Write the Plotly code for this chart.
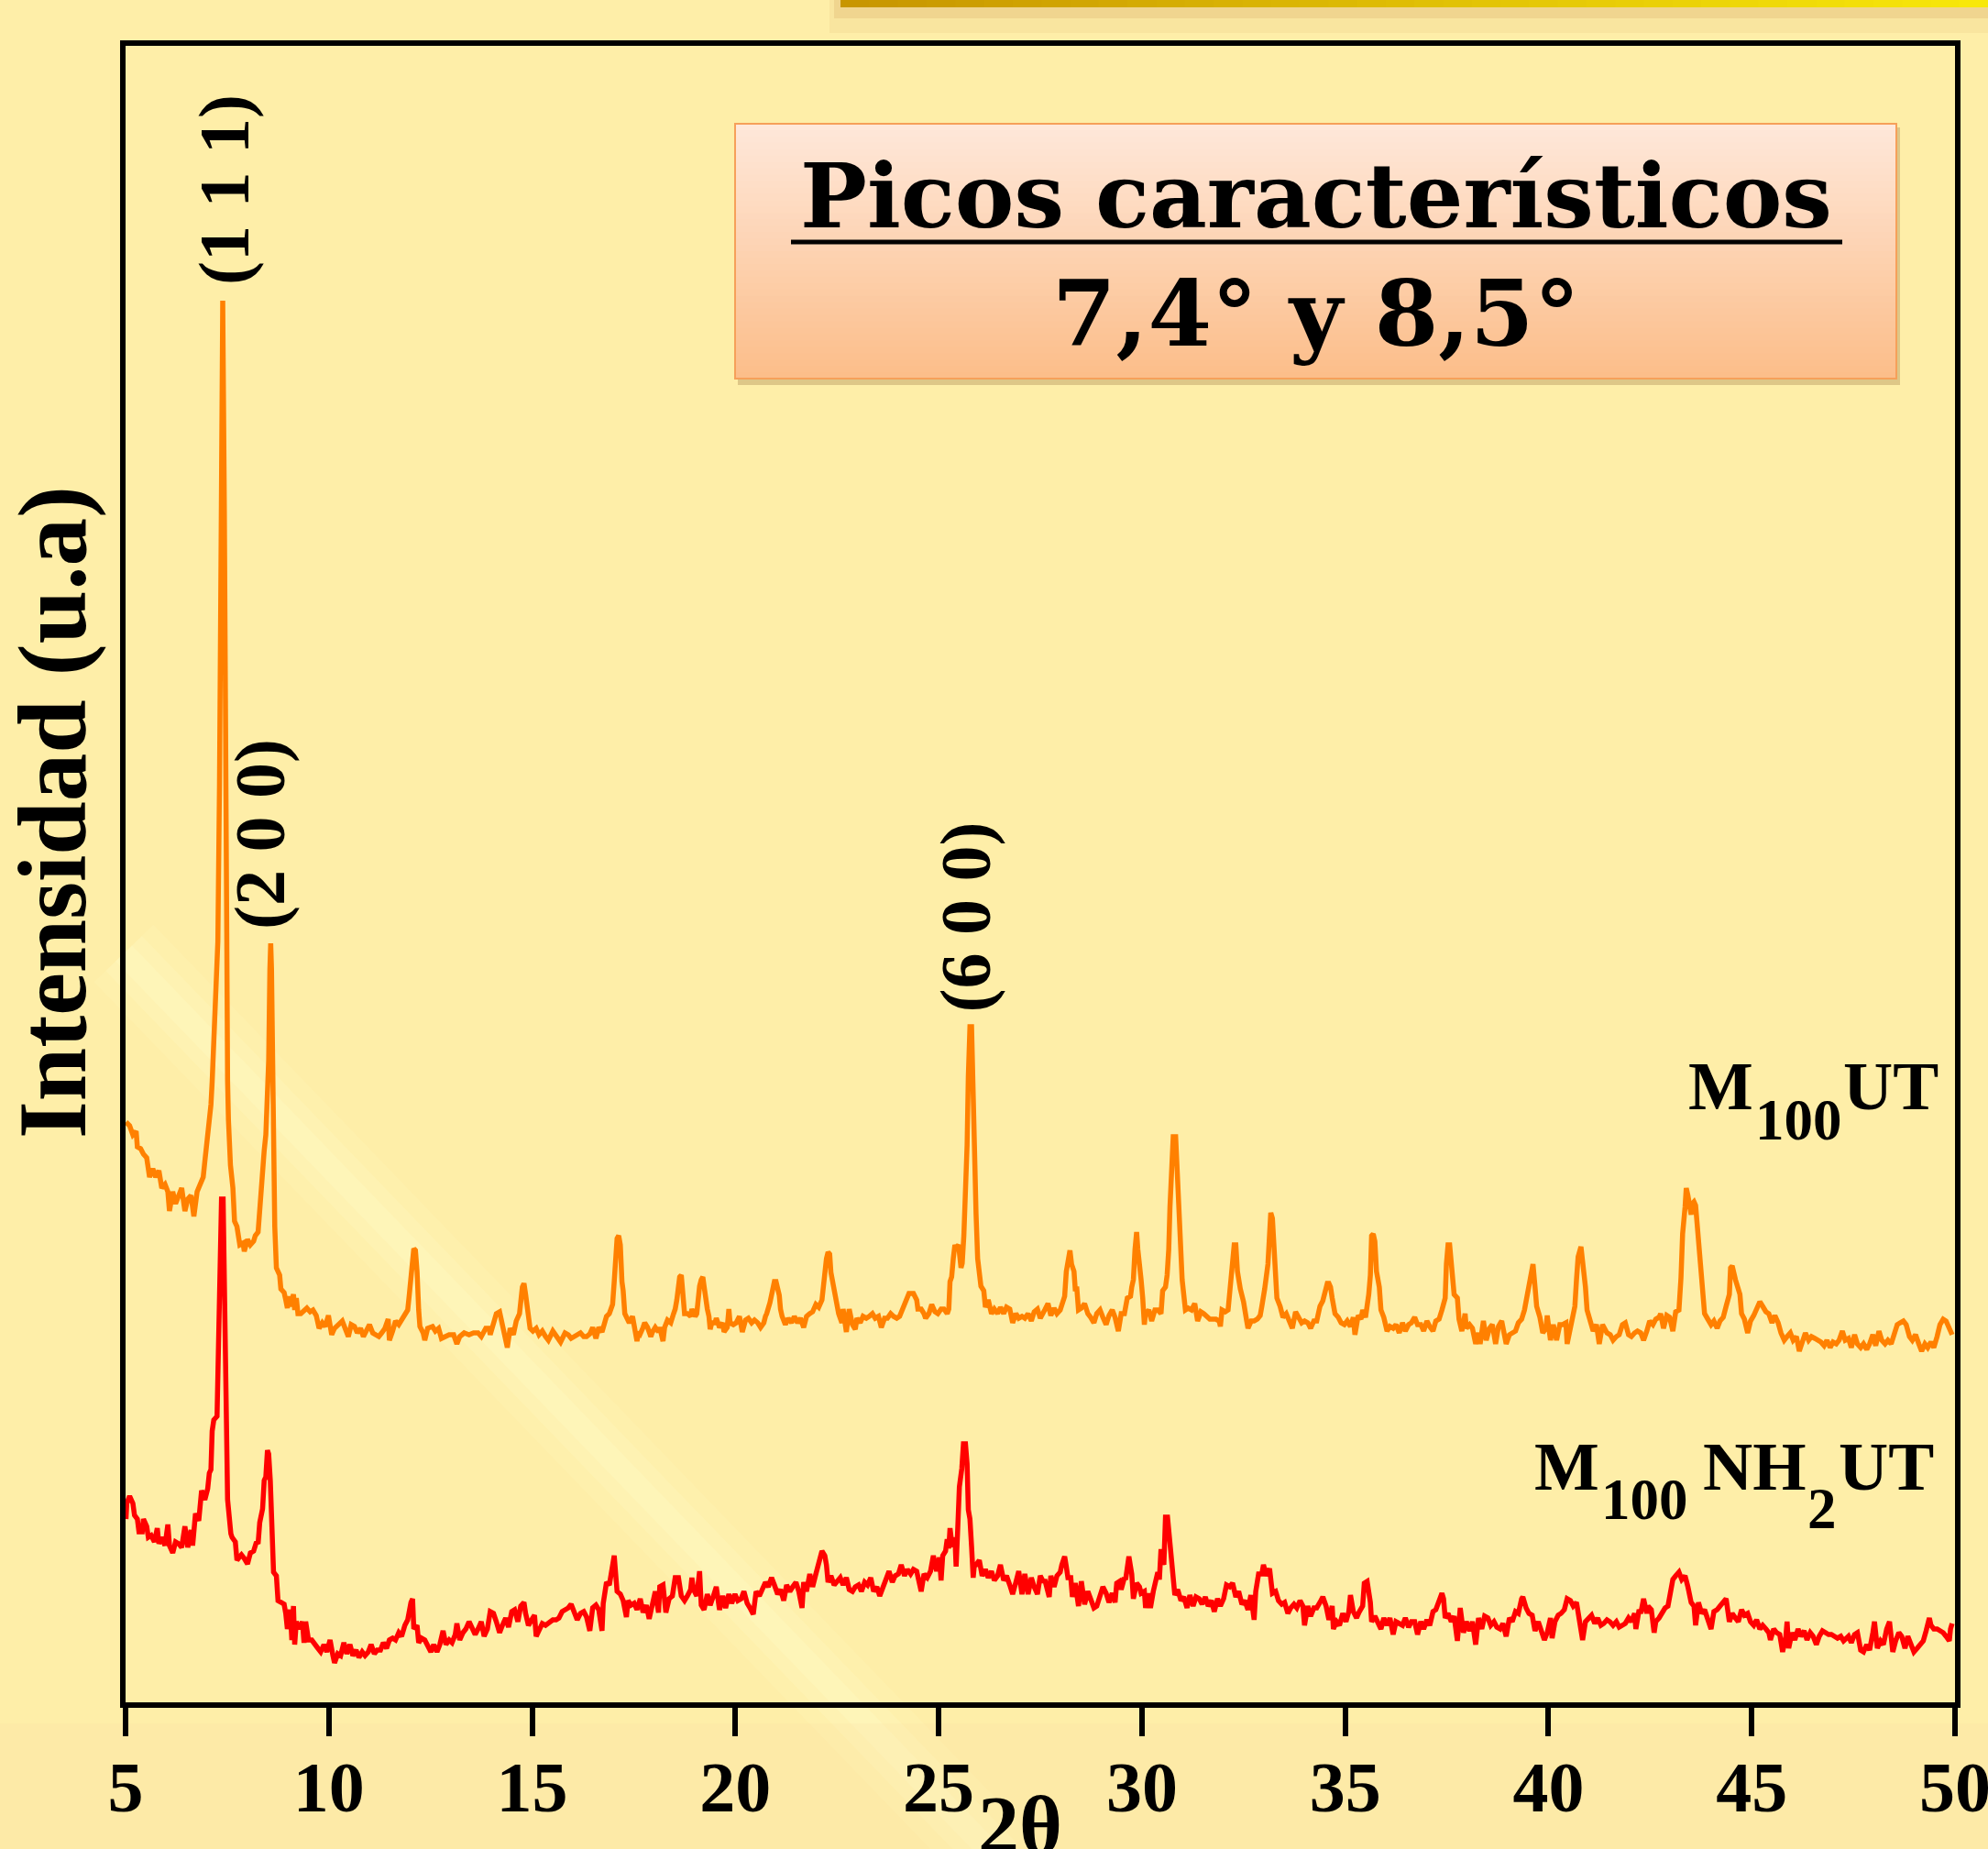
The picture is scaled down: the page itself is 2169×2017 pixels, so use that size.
import plotly.graph_objects as go

# ---------------- data (2theta, intensity a.u.) ----------------
M100UT = [
(5.01,633),(5.10,629),(5.18,619),(5.26,623),(5.29,606),(5.37,604),(5.44,598),(5.52,594),(5.59,573),(5.67,582),(5.74,573),(5.82,580),(5.89,561),(5.97,565),(6.04,557),(6.08,536),(6.16,557),(6.23,544),(6.31,553),(6.38,561),(6.46,536),(6.53,549),(6.61,553),(6.68,530),(6.76,557),(6.83,565),(6.91,573),(6.95,590),(6.98,602),(7.02,619),(7.06,636),(7.10,652),(7.13,677),
(7.20,740),(7.27,830),(7.31,1000),(7.35,1300),(7.39,1529),(7.43,1300),(7.46,1000),(7.48,857),(7.51,677),(7.53,636),(7.56,602),(7.58,586),(7.64,561),(7.68,525),
(7.74,519),(7.77,507),(7.81,499),(7.89,501),(7.92,492),(8.00,505),(8.07,499),(8.15,503),(8.19,509),(8.26,513),(8.30,536),(8.34,561),(8.37,594),(8.41,602),(8.45,619),(8.49,652),(8.52,700),(8.55,800),(8.57,828),(8.59,800),(8.61,700),(8.64,594),(8.67,519),(8.71,474),
(8.79,466),(8.82,451),(8.90,447),(8.94,439),(8.98,430),(9.01,443),(9.05,432),(9.13,445),(9.16,428),(9.20,441),(9.24,424),(9.31,424),(9.39,428),(9.46,430),(9.54,426),(9.61,428),(9.69,422),(9.76,408),(9.84,414),(9.91,410),(9.99,422),(10.07,401),(10.14,408),(10.25,412),(10.33,416),(10.40,408),(10.48,399),(10.55,412),(10.63,410),(10.70,403),(10.78,408),(10.85,399),(10.93,405),(11.00,412),(11.08,403),(11.15,401),(11.23,399),(11.30,403),(11.38,408),(11.46,418),(11.49,395),(11.57,405),(11.64,416),(11.72,412),(11.79,418),(11.87,422),(11.94,428),(11.98,445),(12.02,466),(12.06,478),(12.09,495),(12.13,493),(12.17,470),(12.21,428),(12.24,410),(12.32,403),(12.36,395),(12.43,408),(12.55,410),(12.62,405),(12.70,408),(12.77,397),(12.85,399),(12.96,401),(13.07,401),(13.15,391),(13.22,399),(13.33,403),(13.45,401),(13.56,403),(13.67,403),(13.75,399),(13.86,408),(13.94,408),(13.97,401),(14.05,416),(14.12,424),(14.20,426),(14.27,412),(14.35,395),(14.39,387),(14.46,408),(14.54,401),(14.61,416),(14.69,424),(14.76,453),(14.80,457),(14.84,445),(14.91,416),(14.95,408),(15.02,405),(15.10,408),(15.17,401),(15.25,405),(15.33,399),(15.40,395),(15.51,405),(15.63,397),(15.70,393),(15.81,403),(15.89,401),(15.96,397),(16.08,401),(16.19,403),(16.27,399),
(16.34,399),(16.42,402),(16.49,409),(16.57,397),(16.64,409),(16.72,404),(16.79,414),(16.83,421),(16.90,424),(16.98,434),(17.02,459),(17.05,489),(17.09,506),(17.13,509),(17.17,499),(17.21,459),(17.24,449),(17.28,424),(17.32,421),(17.39,414),(17.47,421),(17.51,409),(17.58,394),(17.62,404),(17.66,402),(17.73,409),(17.77,414),(17.84,409),(17.92,399),(17.96,404),(18.03,409),(18.11,404),(18.14,409),(18.22,394),(18.26,409),(18.33,417),(18.41,414),(18.48,424),(18.52,429),(18.56,439),(18.60,449),(18.63,464),(18.67,466),(18.71,449),(18.75,424),(18.82,424),(18.90,421),(18.93,429),(19.01,421),(19.05,424),(19.08,439),(19.12,454),(19.16,461),(19.20,464),(19.23,454),(19.27,434),(19.31,429),(19.35,421),(19.38,407),(19.42,414),(19.50,414),(19.53,419),(19.61,409),(19.69,414),(19.72,404),(19.80,409),(19.84,429),(19.87,414),(19.95,412),(20.02,414),(20.10,421),(20.17,404),(20.25,417),(20.32,419),(20.40,414),(20.47,417),(20.55,414),(20.62,409),(20.70,414),(20.74,421),(20.77,424),(20.85,436),(20.92,449),(20.96,459),(21.00,459),(21.08,444),(21.11,429),(21.15,421),(21.23,412),(21.30,419),(21.38,414),(21.45,421),(21.53,414),(21.60,419),(21.68,409),(21.75,421),(21.83,424),(21.90,426),(21.98,434),(22.05,431),(22.13,439),(22.16,454),(22.20,469),(22.24,484),(22.28,491),(22.32,489),(22.35,469),(22.39,459),(22.43,444),(22.47,434),(22.54,424),(22.62,414),(22.65,429),(22.73,404),(22.80,429),(22.88,412),(22.95,407),(22.99,419),(23.07,414),(23.14,421),(23.22,419),(23.29,421),(23.37,424),(23.44,419),(23.52,421),(23.59,409),(23.67,419),(23.74,419),(23.82,424),(23.89,421),(23.97,419),(24.04,421),(24.12,429),(24.19,439),(24.27,446),(24.38,446),(24.46,439),(24.49,429),(24.57,429),(24.64,424),(24.68,419),(24.76,424),(24.83,434),(24.91,426),(24.98,424),(25.06,429),(25.13,429),(25.21,424),(25.25,429),(25.28,459),(25.32,464),(25.36,484),(25.40,499),(25.43,496),(25.49,499),(25.55,474),(25.58,479),(25.62,509),(25.66,558),(25.70,608),(25.73,683),(25.77,737),(25.81,737),(25.85,683),(25.88,608),(25.92,533),(25.96,484),(26.04,454),(26.11,449),(26.15,431),(26.22,439),(26.30,424),(26.37,429),(26.45,424),(26.52,431),(26.60,424),(26.67,431),(26.75,429),(26.82,414),(26.90,424),(26.97,419),(27.05,421),(27.12,419),(27.20,424),(27.28,416),(27.35,426),(27.43,429),(27.50,419),(27.58,424),
(27.61,428),(27.69,435),(27.76,422),(27.84,430),(27.91,424),(27.99,428),(28.06,441),(28.10,443),(28.14,470),(28.18,478),(28.23,493),(28.27,478),(28.33,470),(28.36,451),(28.40,451),(28.44,428),(28.51,430),(28.59,435),(28.67,424),(28.74,420),(28.82,414),(28.89,424),(28.97,428),(29.04,420),(29.12,412),(29.19,422),(29.27,428),(29.34,420),(29.42,405),(29.49,424),(29.57,424),(29.64,441),(29.72,443),(29.75,453),(29.79,461),(29.83,494),(29.87,513),(29.90,494),(29.94,482),(29.98,461),(30.02,441),(30.06,412),(30.09,424),(30.17,428),(30.24,416),(30.32,428),(30.39,428),(30.47,424),(30.51,449),(30.58,453),(30.62,466),(30.66,494),(30.69,540),(30.73,586),(30.77,617),(30.83,617),(30.86,586),(30.90,540),(30.93,499),(30.99,461),(31.07,428),(31.14,430),(31.22,428),(31.30,435),(31.37,416),(31.45,426),(31.52,424),(31.60,420),(31.67,418),(31.75,418),(31.82,418),(31.90,416),(31.93,410),(31.97,428),(32.05,426),(32.12,428),(32.16,445),(32.20,461),(32.23,478),(32.27,499),(32.31,499),(32.35,470),(32.42,451),(32.50,437),(32.57,418),(32.61,408),(32.69,416),(32.76,416),(32.84,418),(32.91,422),(32.95,432),(32.99,449),(33.02,451),(33.10,478),(33.14,520),(33.17,534),(33.21,528),(33.25,499),(33.29,478),(33.32,441),(33.40,432),(33.47,420),(33.55,424),(33.62,416),(33.70,408),(33.78,426),(33.85,420),(33.93,414),(34.00,416),(34.08,414),(34.15,408),(34.23,416),(34.30,416),(34.38,432),(34.45,438),(34.53,453),(34.56,457),(34.60,457),(34.64,453),(34.68,441),(34.75,424),(34.83,420),(34.90,414),(34.98,412),(35.05,416),(35.13,410),(35.20,420),(35.24,401),(35.32,422),(35.39,418),(35.43,428),(35.50,420),(35.54,432),(35.58,445),(35.62,466),(35.65,509),(35.69,511),(35.73,503),(35.77,470),(35.84,453),(35.88,428),(35.95,420),(36.03,405),(36.10,410),(36.18,408),(36.25,412),(36.33,403),(36.41,414),(36.48,405),(36.56,412),(36.63,414),(36.71,420),(36.78,412),(36.86,412),(36.93,405),(37.01,416),(37.08,410),(37.16,405),(37.23,416),(37.31,418),(37.38,428),(37.46,441),(37.49,478),(37.53,499),(37.57,499),(37.61,478),(37.65,461),(37.68,445),(37.76,441),(37.80,418),(37.87,405),(37.95,424),(37.98,408),(38.06,412),(38.13,408),(38.21,391),(38.28,403),(38.32,391),(38.40,416),(38.47,395),(38.55,408),(38.62,412),(38.70,391),(38.77,410),(38.85,416),
(38.96,391),(39.04,401),(39.11,403),(39.19,405),(39.26,414),(39.34,418),(39.41,428),(39.49,449),(39.56,466),(39.62,478),(39.67,453),(39.71,432),(39.79,420),(39.86,403),(39.94,408),(39.97,422),(40.05,395),(40.12,412),(40.20,395),(40.28,412),(40.35,412),(40.43,414),(40.46,391),(40.54,408),(40.61,428),(40.65,432),(40.69,461),(40.73,486),(40.80,497),(40.84,482),(40.91,453),(40.95,428),(41.03,416),(41.10,405),(41.18,412),(41.25,391),(41.33,412),(41.44,403),(41.52,401),(41.59,395),(41.67,399),(41.74,401),(41.82,412),(41.89,414),(41.97,401),(42.04,399),(42.12,403),(42.19,405),(42.27,403),(42.34,395),(42.42,405),(42.49,416),(42.57,412),(42.64,418),(42.72,420),(42.76,424),(42.83,408),(42.91,422),(42.98,420),(43.06,405),(43.13,426),(43.21,428),(43.26,463),(43.30,511),(43.36,540),(43.39,561),(43.43,553),(43.51,532),(43.54,544),(43.58,546),(43.62,542),(43.66,520),(43.69,499),(43.77,461),(43.81,437),(43.84,424),(43.92,418),(44.00,412),(44.07,416),(44.15,408),(44.22,416),(44.30,420),(44.37,432),(44.45,445),(44.48,474),(44.52,476),(44.60,461),(44.67,453),(44.71,445),(44.75,424),(44.82,418),(44.90,403),(44.97,416),(45.05,422),(45.12,428),(45.20,437),(45.27,432),(45.35,426),(45.42,424),(45.50,414),(45.57,422),(45.65,414),(45.72,403),(45.80,395),(45.87,399),(45.95,403),(46.02,395),(46.10,399),(46.17,383),(46.25,395),(46.32,403),(46.40,395),(46.47,399),(46.55,397),(46.62,395),(46.70,393),(46.78,389),(46.85,395),(46.93,387),(47.00,393),(47.08,391),(47.15,395),(47.23,405),(47.30,395),(47.38,397),(47.45,387),(47.53,401),(47.60,391),(47.68,387),(47.75,391),(47.83,385),(47.90,391),(47.98,401),(48.05,389),(48.13,405),(48.20,395),(48.28,391),(48.35,395),(48.43,391),(48.50,403),(48.58,412),(48.65,414),(48.73,416),(48.80,412),(48.88,399),(48.95,395),(49.03,401),(49.11,391),(49.18,383),(49.26,391),(49.33,387),(49.41,393),(49.48,387),(49.56,399),(49.63,412),(49.71,418),(49.78,416),(49.86,408),(49.93,401),
]

M100NH2UT = [
(5.01,200),(5.03,217),(5.10,225),(5.18,217),(5.22,204),(5.29,200),(5.33,186),(5.41,186),(5.44,200),(5.52,192),(5.56,180),(5.63,182),(5.71,175),(5.78,190),(5.82,173),(5.89,180),(5.97,171),(6.04,194),(6.08,171),(6.16,163),(6.23,175),(6.31,173),(6.38,169),(6.46,192),(6.53,169),(6.61,188),(6.65,171),(6.72,206),(6.80,198),(6.87,231),(6.95,221),(7.02,233),(7.06,250),(7.10,254),(7.13,296),(7.17,308),(7.25,312),(7.28,387),(7.32,470),(7.36,549),(7.40,549),(7.44,428),(7.47,283),(7.51,221),(7.59,184),(7.62,180),(7.70,175),(7.74,155),(7.81,159),(7.85,161),(7.92,157),(8.00,151),(8.07,163),(8.15,165),(8.22,175),(8.26,173),(8.30,196),(8.34,208),(8.37,211),(8.41,242),(8.45,246),(8.49,275),(8.52,271),(8.56,242),(8.60,180),(8.64,142),(8.71,138),(8.75,111),(8.83,109),(8.90,107),(8.94,97),(8.98,80),(9.05,101),(9.09,68),(9.13,105),(9.16,63),(9.20,88),(9.28,80),(9.35,88),(9.39,65),(9.43,88),(9.50,68),(9.58,68),(9.65,63),(9.73,59),(9.80,55),(9.88,63),(9.95,55),(10.03,68),(10.10,51),(10.14,43),(10.22,53),(10.29,51),(10.37,65),(10.44,53),(10.52,63),(10.59,51),(10.67,57),(10.74,49),(10.82,55),(10.89,51),(10.97,55),(11.04,63),(11.12,53),(11.19,57),(11.27,57),(11.34,65),(11.42,59),(11.49,68),(11.57,70),(11.64,68),(11.72,76),(11.79,72),(11.87,84),(11.94,90),(12.02,109),(12.06,113),(12.09,80),(12.17,84),(12.21,65),(12.28,70),(12.36,68),(12.43,63),(12.51,55),(12.58,63),(12.66,55),(12.73,63),(12.81,78),(12.88,63),(12.96,68),(13.03,65),(13.11,74),(13.15,86),(13.22,68),(13.30,76),(13.37,80),(13.45,88),(13.52,80),(13.60,74),(13.67,80),(13.75,88),(13.82,72),(13.90,80),(13.97,99),(14.05,97),(14.12,88),(14.20,76),(14.27,84),(14.35,92),(14.42,82),(14.50,99),(14.57,101),(14.65,88),(14.72,105),(14.80,109),(14.84,97),(14.91,84),(14.99,90),(15.06,95),(15.10,72),(15.18,80),(15.25,86),(15.33,84),(15.44,88),(15.51,90),(15.59,90),(15.66,92),(15.74,99),(15.81,101),(15.89,103),(15.96,107),(16.04,99),(16.11,90),(16.19,97),(16.27,99),
(16.34,93),(16.42,78),(16.49,103),(16.57,106),(16.64,101),(16.72,78),(16.75,108),(16.83,131),(16.90,128),(16.98,146),(17.02,160),(17.05,143),(17.09,121),(17.17,118),(17.24,111),(17.32,93),(17.36,111),(17.43,106),(17.51,108),(17.58,101),(17.66,113),(17.73,98),(17.81,106),(17.88,91),(17.96,111),(18.03,121),(18.11,98),(18.14,126),(18.22,128),(18.29,98),(18.37,113),(18.45,116),(18.52,136),(18.60,136),(18.67,116),(18.75,111),(18.82,116),(18.90,123),(18.93,136),(18.97,123),(19.05,116),(19.12,143),(19.16,106),(19.23,101),(19.31,118),(19.38,106),(19.46,116),(19.53,126),(19.61,101),(19.69,116),(19.76,103),(19.84,118),(19.91,108),(19.99,118),(20.06,111),(20.14,113),(20.21,121),(20.29,108),(20.36,103),(20.44,96),(20.51,121),(20.59,116),(20.66,123),(20.74,131),(20.81,126),(20.89,136),(20.96,128),(21.04,118),(21.11,123),(21.19,111),(21.26,128),(21.34,121),(21.41,126),(21.49,131),(21.56,121),(21.64,103),(21.68,131),(21.75,121),(21.83,140),(21.90,126),(21.98,140),(22.05,150),(22.09,155),(22.13,165),(22.20,160),(22.24,150),(22.28,131),(22.35,138),(22.43,128),(22.50,131),(22.58,136),(22.65,128),(22.73,136),(22.80,123),(22.88,121),(22.95,126),(23.03,128),(23.10,121),(23.18,131),(23.25,128),(23.33,136),(23.40,121),(23.48,126),(23.55,116),(23.63,126),(23.71,133),(23.78,143),(23.86,131),(23.93,138),(24.01,140),(24.08,150),(24.16,138),(24.23,145),(24.31,140),(24.38,145),(24.46,143),(24.53,131),(24.57,121),(24.64,140),(24.72,136),(24.80,143),(24.87,160),(24.95,143),(25.02,158),(25.06,133),(25.10,160),(25.17,165),(25.21,178),(25.25,168),(25.28,190),(25.32,175),(25.36,170),(25.40,180),(25.43,148),(25.47,190),(25.51,235),(25.57,255),(25.61,282),(25.66,282),(25.70,260),(25.73,210),(25.77,200),(25.81,170),(25.85,136),(25.88,150),(25.92,150),(26.00,155),(26.07,138),(26.15,145),(26.22,136),(26.30,143),(26.37,133),(26.45,138),(26.52,150),(26.60,133),(26.67,138),(26.75,128),(26.82,118),(26.90,131),(26.97,143),(27.05,118),(27.12,140),(27.20,118),(27.28,136),(27.35,126),(27.43,118),(27.50,138),(27.58,131),
(27.61,134),(27.69,121),(27.72,115),(27.76,138),(27.84,126),(27.91,138),(27.99,142),(28.03,150),(28.10,159),(28.14,148),(28.18,136),(28.25,136),(28.29,115),(28.36,130),(28.44,105),(28.51,132),(28.55,113),(28.59,107),(28.67,121),(28.74,113),(28.82,103),(28.89,105),(28.97,115),(29.04,126),(29.12,119),(29.19,109),(29.27,119),(29.34,109),(29.38,130),(29.45,132),(29.49,123),(29.57,136),(29.60,134),(29.64,150),(29.68,159),(29.72,148),(29.75,140),(29.79,113),(29.87,130),(29.94,126),(29.98,119),(30.06,121),(30.09,103),(30.17,119),(30.21,103),(30.28,121),(30.32,130),(30.39,142),(30.43,134),(30.47,167),(30.54,150),(30.58,202),(30.63,202),(30.68,180),(30.73,146),(30.77,140),(30.81,117),(30.88,123),(30.96,111),(31.03,115),(31.11,103),(31.18,117),(31.26,105),(31.33,115),(31.41,113),(31.48,107),(31.56,115),(31.63,105),(31.71,111),(31.78,99),(31.86,113),(31.93,105),(32.01,113),(32.08,128),(32.16,126),(32.23,130),(32.31,115),(32.38,121),(32.46,107),(32.53,111),(32.61,101),(32.68,117),(32.76,90),(32.80,121),(32.87,140),(32.95,140),(32.99,150),(33.06,138),(33.14,146),(33.21,119),(33.29,121),(33.36,111),(33.44,107),(33.51,109),(33.59,97),(33.66,103),(33.74,107),(33.81,103),(33.89,111),(33.96,105),(34.00,84),(34.08,105),(34.15,94),(34.23,103),(34.30,103),(34.38,109),(34.45,115),(34.53,105),(34.60,90),(34.68,105),(34.71,80),(34.79,88),(34.86,84),(34.94,97),(35.02,88),(35.09,99),(35.13,117),(35.20,99),(35.28,92),(35.35,99),(35.43,105),(35.47,130),(35.54,132),(35.62,109),(35.65,88),(35.73,94),(35.80,86),(35.88,80),(35.95,92),(36.03,84),(36.10,92),(36.18,74),(36.25,88),(36.33,86),(36.41,84),(36.48,92),(36.56,82),(36.63,88),(36.71,88),(36.78,74),(36.86,88),(36.93,80),(37.01,90),(37.08,84),(37.16,99),(37.23,101),(37.31,109),(37.38,119),(37.42,113),(37.46,92),(37.53,97),(37.61,88),(37.68,94),(37.76,67),(37.83,103),(37.91,76),(37.98,88),(38.06,78),(38.13,88),(38.21,63),(38.28,92),(38.36,80),(38.43,94),(38.51,92),(38.58,84),(38.66,88),(38.73,82),(38.81,80),
(38.88,86),(38.96,72),(39.04,92),(39.11,88),(39.19,99),(39.26,97),(39.34,113),(39.37,115),(39.45,103),(39.52,97),(39.60,95),(39.67,78),(39.75,88),(39.82,80),(39.90,68),(39.97,76),(40.05,92),(40.09,70),(40.16,88),(40.24,95),(40.31,97),(40.39,101),(40.46,113),(40.54,111),(40.61,105),(40.69,109),(40.76,88),(40.84,68),(40.91,88),(40.99,92),(41.06,95),(41.14,86),(41.21,92),(41.29,84),(41.36,86),(41.44,90),(41.51,88),(41.59,84),(41.67,88),(41.74,82),(41.82,84),(41.89,86),(41.97,92),(42.04,88),(42.12,97),(42.15,80),(42.23,101),(42.27,97),(42.34,113),(42.42,97),(42.45,105),(42.53,101),(42.60,76),(42.64,88),(42.72,92),(42.79,97),(42.87,103),(42.94,105),(43.02,121),(43.06,134),(43.13,138),(43.21,142),(43.28,134),(43.36,138),(43.43,126),(43.51,109),(43.58,105),(43.62,84),(43.69,109),(43.77,97),(43.84,101),(43.92,92),(44.00,80),(44.07,99),(44.15,101),(44.22,105),(44.30,109),(44.37,113),(44.45,88),(44.52,97),(44.60,92),(44.67,88),(44.75,101),(44.82,95),(44.90,97),(44.97,88),(45.05,84),(45.12,90),(45.20,80),(45.27,84),(45.35,80),(45.42,76),(45.46,68),(45.54,80),(45.61,76),(45.69,74),(45.76,55),(45.84,72),(45.87,88),(45.91,59),(45.99,76),(46.06,68),(46.14,80),(46.21,72),(46.29,78),(46.36,68),(46.44,76),(46.51,72),(46.59,63),(46.66,72),(46.74,78),(46.81,76),(46.89,74),(46.96,74),(47.04,72),(47.11,70),(47.19,72),(47.26,67),(47.38,72),(47.45,65),(47.53,74),(47.60,76),(47.68,57),(47.75,55),(47.83,63),(47.90,57),(47.98,76),(48.02,88),(48.09,59),(48.17,67),(48.24,63),(48.32,80),(48.39,88),(48.47,55),(48.54,67),(48.62,76),(48.69,72),(48.77,59),(48.84,72),(48.92,63),(48.99,55),(49.07,59),(49.14,63),(49.22,67),(49.29,78),(49.37,92),(49.41,84),(49.48,80),(49.56,80),(49.63,78),(49.71,76),(49.78,72),(49.86,67),(49.89,80),(49.93,86),
]

X_TICKS = [5, 10, 15, 20, 25, 30, 35, 40, 45, 50]
PEAK_LABELS = ["(1 1 1)", "(2 0 0)", "(6 0 0)"]
PEAK_POS_2THETA = [7.41, 8.29, 25.66]
PEAK_LABEL_HEIGHT = [1650, 947, 857]

# ---------------- layout geometry (pixels) ----------------
W, H = 2169, 2017
L, R, T, B = 137, 2133, 50, 1857
SERIF = "Liberation Serif"
BOX_FONT = "DejaVu Serif"


def pxx(px):
    return (px - L) / (R - L)


def pxy(py):
    return (B - py) / (B - T)


fig = go.Figure()
fig.add_trace(go.Scatter(x=[p[0] for p in M100UT], y=[p[1] for p in M100UT], mode="lines",
                         line=dict(color="#FF8000", width=5.5), showlegend=False, hoverinfo="skip"))
fig.add_trace(go.Scatter(x=[p[0] for p in M100NH2UT], y=[p[1] for p in M100NH2UT], mode="lines",
                         line=dict(color="#FF0000", width=5.5), showlegend=False, hoverinfo="skip"))

shapes = []
# soft background light streak
for w_, a_ in [(90, 0.12), (55, 0.18), (25, 0.22)]:
    shapes.append(dict(type="line", xref="paper", yref="paper", x0=pxx(135), y0=pxy(1040), x1=pxx(1090), y1=pxy(2030),
                       line=dict(color=f"rgba(255,255,205,{a_})", width=w_), layer="below"))
shapes.append(dict(type="rect", xref="paper", yref="paper", x0=pxx(0), y0=pxy(2017), x1=pxx(2169), y1=pxy(1880),
                   fillcolor="rgba(250,215,160,0.15)", line=dict(width=0), layer="below"))
# top gold bar: soft shadow + gradient bar
shapes.append(dict(type="rect", xref="paper", yref="paper", x0=pxx(905), y0=pxy(36), x1=pxx(2169), y1=pxy(0),
                   fillcolor="rgba(210,160,90,0.10)", line=dict(width=0), layer="below"))
shapes.append(dict(type="rect", xref="paper", yref="paper", x0=pxx(910), y0=pxy(20), x1=pxx(2169), y1=pxy(0),
                   fillcolor="rgba(190,130,60,0.16)", line=dict(width=0), layer="below"))
NSTRIP = 40
bx0, bx1 = 917, 2169
for i in range(NSTRIP):
    t = i / (NSTRIP - 1)
    r = int(200 + (248 - 200) * t)
    g = int(150 + (232 - 150) * t)
    b = int(0 + (10 - 0) * t)
    xa = bx0 + (bx1 - bx0) * i / NSTRIP
    xb = bx0 + (bx1 - bx0) * (i + 1) / NSTRIP + 1
    shapes.append(dict(type="rect", xref="paper", yref="paper", x0=pxx(xa), y0=pxy(8), x1=pxx(xb), y1=pxy(-5),
                       fillcolor=f"rgb({r},{g},{b})", line=dict(width=0), layer="below"))

# info box: shadow, gradient, border
BX0, BX1, BY0, BY1 = 802, 2069, 135, 413
shapes.append(dict(type="rect", xref="paper", yref="paper", x0=pxx(BX0 + 3), y0=pxy(BY1 + 7), x1=pxx(BX1 + 4), y1=pxy(BY0 + 4),
                   fillcolor="rgba(140,100,50,0.28)", line=dict(width=0)))
NB = 40
for i in range(NB):
    t = i / (NB - 1)
    r = int(255 + (252 - 255) * t)
    g = int(232 + (190 - 232) * t)
    b = int(218 + (138 - 218) * t)
    ya = BY0 + (BY1 - BY0) * i / NB
    yb = BY0 + (BY1 - BY0) * (i + 1) / NB + 1
    shapes.append(dict(type="rect", xref="paper", yref="paper", x0=pxx(BX0), y0=pxy(min(yb, BY1)), x1=pxx(BX1), y1=pxy(ya),
                       fillcolor=f"rgb({r},{g},{b})", line=dict(width=0)))
shapes.append(dict(type="rect", xref="paper", yref="paper", x0=pxx(BX0), y0=pxy(BY1), x1=pxx(BX1), y1=pxy(BY0),
                   fillcolor="rgba(0,0,0,0)", line=dict(color="#F6A05A", width=2)))
# underline of the title
shapes.append(dict(type="line", xref="paper", yref="paper", x0=pxx(863), y0=pxy(264), x1=pxx(2010), y1=pxy(264),
                   line=dict(color="black", width=5)))

annotations = []
# y title
annotations.append(dict(text="<b>Intensidad (u.a)</b>", xref="paper", yref="paper", x=pxx(57), y=pxy(886),
                        xanchor="center", yanchor="middle", textangle=-90, showarrow=False,
                        font=dict(family=SERIF, size=105, color="black")))
# x title
annotations.append(dict(text="<b>2θ</b>", xref="paper", yref="paper", x=pxx(1113), y=pxy(1991),
                        xanchor="center", yanchor="middle", showarrow=False,
                        font=dict(family=SERIF, size=90, color="black")))
# peak labels
for lab, px_, py_ in zip(PEAK_LABELS, PEAK_POS_2THETA, PEAK_LABEL_HEIGHT):
    annotations.append(dict(text=f"<b>{lab}</b>", x=px_, y=py_, xref="x", yref="y", textangle=-90,
                            xanchor="center", yanchor="middle", showarrow=False,
                            font=dict(family=SERIF, size=78, color="black")))
# box text
annotations.append(dict(text="<b>Picos característicos</b>", xref="paper", yref="paper", x=pxx(1436), y=pxy(214),
                        xanchor="center", yanchor="middle", showarrow=False,
                        font=dict(family=BOX_FONT, size=97, color="black")))
annotations.append(dict(text="<b>7,4° y 8,5°</b>", xref="paper", yref="paper", x=pxx(1436), y=pxy(342),
                        xanchor="center", yanchor="middle", showarrow=False,
                        font=dict(family=BOX_FONT, size=100, color="black")))


def piece(txt, left_px, center_py, size):
    return dict(text=f"<b>{txt}</b>", xref="paper", yref="paper", x=pxx(left_px), y=pxy(center_py),
                xanchor="left", yanchor="middle", showarrow=False, borderpad=0,
                font=dict(family=SERIF, size=size, color="black"))


# series labels
annotations += [piece("M", 1841, 1184, 75), piece("100", 1914, 1222, 63), piece("UT", 2010, 1184, 75)]
annotations += [piece("M", 1673, 1599, 75), piece("100", 1746, 1636, 63), piece("NH", 1857, 1599, 75),
                piece("2", 1971, 1646, 63), piece("UT", 2005, 1599, 75)]

fig.update_layout(
    width=W, height=H,
    margin=dict(l=L, r=W - R, t=T, b=H - B, pad=0, autoexpand=False),
    paper_bgcolor="#FEEEA8",
    plot_bgcolor="rgba(0,0,0,0)",
    showlegend=False,
    shapes=shapes,
    annotations=annotations,
    xaxis=dict(range=[5, 50.0005], tickmode="array", tickvals=X_TICKS, ticktext=[f"<b>{v}</b>" for v in X_TICKS],
               ticks="outside", ticklen=31, tickwidth=6, tickcolor="black",
               showline=True, linewidth=6, linecolor="black", mirror=True,
               showgrid=False, zeroline=False, ticklabelstandoff=-12, ticklabeloverflow="allow",
               automargin=False,
               tickfont=dict(family=SERIF, size=78, color="black")),
    yaxis=dict(range=[0, B - T], showticklabels=False, ticks="",
               showline=True, linewidth=6, linecolor="black", mirror=True,
               showgrid=False, zeroline=False, automargin=False),
)

fig.write_html("out.html")
